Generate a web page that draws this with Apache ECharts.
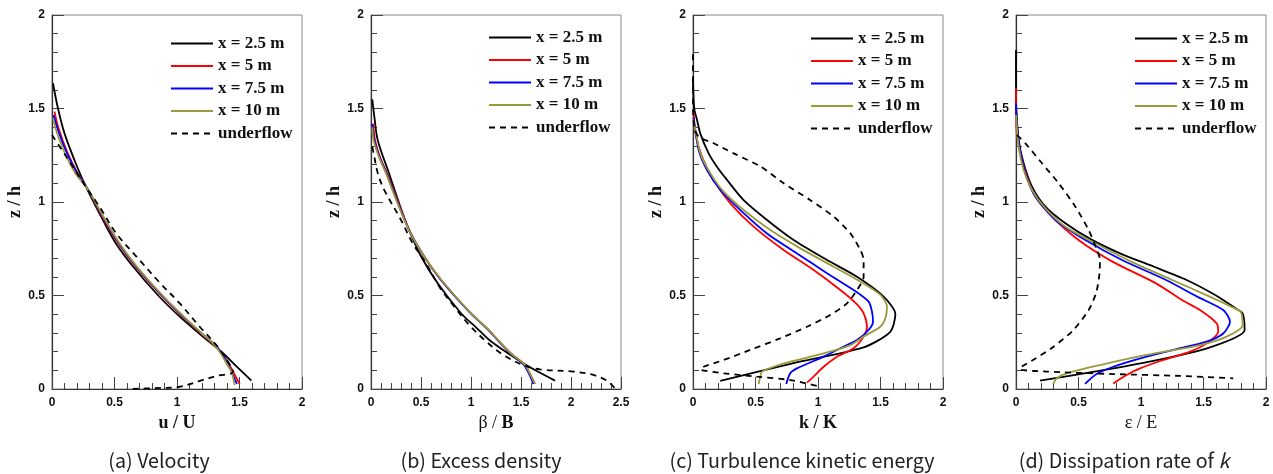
<!DOCTYPE html>
<html>
<head>
<meta charset="utf-8">
<script src="https://cdn.jsdelivr.net/npm/echarts@6/dist/echarts.min.js"></script>
<style>
  html, body { margin: 0; padding: 0; background: #fff; }
  #chart { width: 1273px; height: 474px; }
</style>
</head>
<body>
<div id="chart"></div>
<script>
// Vertical profiles of an underflow at four downstream stations, [value, z/h]

// (a) velocity u/U
const velX25 = [[0.008,1.635],[0.048,1.5],[0.10,1.367],[0.20,1.19],[0.28,1.07],[0.41,0.9],[0.51,0.78],[0.65,0.654],[0.85,0.5],[1.022,0.387],[1.19,0.29],[1.368,0.191],[1.48,0.118],[1.595,0.045]];
const velX5 = [[0.02,1.483],[0.05,1.40],[0.12,1.27],[0.20,1.16],[0.285,1.07],[0.42,0.9],[0.53,0.78],[0.67,0.654],[0.875,0.5],[1.045,0.387],[1.205,0.29],[1.30,0.235],[1.368,0.182],[1.435,0.11],[1.462,0.075],[1.502,0.027]];
const velX75 = [[0.013,1.465],[0.05,1.38],[0.12,1.26],[0.20,1.155],[0.285,1.07],[0.425,0.9],[0.535,0.78],[0.675,0.654],[0.88,0.5],[1.05,0.387],[1.21,0.29],[1.30,0.238],[1.36,0.19],[1.425,0.11],[1.45,0.07],[1.48,0.027]];
const velX10 = [[0.008,1.447],[0.04,1.37],[0.11,1.25],[0.19,1.15],[0.285,1.07],[0.43,0.9],[0.54,0.78],[0.68,0.654],[0.885,0.5],[1.055,0.387],[1.21,0.29],[1.288,0.244],[1.35,0.19],[1.41,0.12],[1.435,0.093],[1.462,0.021]];
const velUnder = [[0,1.358],[0.115,1.242],[0.288,1.064],[0.38,0.975],[0.514,0.832],[0.70,0.69],[0.86,0.57],[1.022,0.458],[1.182,0.333],[1.315,0.235],[1.382,0.173],[1.448,0.093],[1.315,0.07],[1.182,0.043],[1.022,0.012],[0.83,0.005],[0.62,0.0]];

// (b) excess density beta/B
const denX25 = [[0.013,1.549],[0.035,1.45],[0.067,1.332],[0.18,1.153],[0.27,1.01],[0.367,0.868],[0.50,0.71],[0.667,0.565],[0.9,0.405],[1.05,0.33],[1.183,0.262],[1.40,0.18],[1.59,0.116],[1.84,0.045]];
const denX5 = [[0.023,1.42],[0.04,1.332],[0.09,1.24],[0.16,1.153],[0.27,1.0],[0.383,0.85],[0.53,0.71],[0.70,0.583],[0.967,0.422],[1.19,0.307],[1.267,0.262],[1.40,0.19],[1.54,0.128],[1.60,0.07],[1.64,0.027]];
const denX75 = [[0.013,1.417],[0.032,1.332],[0.085,1.24],[0.155,1.153],[0.265,1.0],[0.38,0.85],[0.53,0.71],[0.70,0.583],[0.967,0.422],[1.19,0.307],[1.265,0.262],[1.395,0.19],[1.53,0.128],[1.59,0.07],[1.623,0.027]];
const denX10 = [[0.013,1.40],[0.025,1.332],[0.08,1.24],[0.15,1.153],[0.26,1.0],[0.38,0.85],[0.53,0.71],[0.705,0.583],[0.97,0.422],[1.195,0.307],[1.27,0.262],[1.40,0.19],[1.54,0.128],[1.60,0.07],[1.64,0.027]];
const denUnder = [[0.013,1.296],[0.03,1.25],[0.07,1.15],[0.133,1.064],[0.3,0.904],[0.417,0.779],[0.55,0.672],[0.683,0.547],[0.833,0.44],[0.983,0.342],[1.15,0.255],[1.323,0.182],[1.523,0.128],[1.69,0.105],[2.023,0.093],[2.223,0.075],[2.357,0.045],[2.44,0.004]];

// (c) turbulence kinetic energy k/K
const tkeX25 = [[0.0,1.66],[0.005,1.55],[0.012,1.49],[0.032,1.44],[0.058,1.367],[0.125,1.26],[0.19,1.19],[0.272,1.118],[0.405,1.01],[0.592,0.904],[0.805,0.797],[1.072,0.69],[1.312,0.6],[1.525,0.494],[1.619,0.401],[1.578,0.306],[1.365,0.223],[0.78,0.135],[0.218,0.043]];
const tkeX5 = [[0.0,1.49],[0.005,1.474],[0.019,1.367],[0.072,1.242],[0.165,1.118],[0.299,0.993],[0.485,0.868],[0.725,0.743],[0.965,0.636],[1.179,0.529],[1.30,0.46],[1.365,0.405],[1.392,0.333],[1.365,0.28],[1.285,0.218],[1.152,0.173],[1.045,0.119],[0.965,0.066],[0.912,0.034]];
const tkeX75 = [[0.0,1.45],[0.005,1.447],[0.045,1.278],[0.112,1.171],[0.219,1.064],[0.379,0.957],[0.592,0.832],[0.832,0.725],[1.072,0.619],[1.285,0.529],[1.405,0.467],[1.432,0.413],[1.44,0.36],[1.405,0.316],[1.312,0.262],[1.178,0.218],[1.045,0.173],[0.832,0.11],[0.778,0.084],[0.746,0.027]];
const tkeX10 = [[0.0,1.44],[0.005,1.43],[0.059,1.26],[0.139,1.153],[0.245,1.055],[0.405,0.957],[0.619,0.85],[0.859,0.752],[1.125,0.654],[1.339,0.574],[1.499,0.503],[1.552,0.44],[1.539,0.378],[1.498,0.333],[1.365,0.28],[1.258,0.235],[1.045,0.19],[0.778,0.146],[0.645,0.119],[0.552,0.093],[0.538,0.066],[0.525,0.027]];
const tkeUnder = [[0.0,1.79],[0.0,1.55],[0.01,1.40],[0.045,1.349],[0.165,1.314],[0.325,1.26],[0.54,1.19],[0.725,1.10],[0.939,1.01],[1.125,0.922],[1.259,0.832],[1.339,0.743],[1.365,0.69],[1.365,0.60],[1.312,0.529],[1.232,0.458],[1.098,0.396],[0.912,0.333],[0.698,0.271],[0.458,0.209],[0.245,0.155],[0.085,0.119],[0.06,0.105],[0.245,0.084],[0.512,0.066],[0.778,0.048],[0.992,0.016]];

// (d) dissipation rate eps/E
const dssX25 = [[0.0,1.813],[0.0,1.6],[0.003,1.492],[0.021,1.332],[0.061,1.207],[0.128,1.082],[0.235,0.975],[0.395,0.886],[0.60,0.80],[0.85,0.72],[1.10,0.655],[1.365,0.583],[1.60,0.50],[1.76,0.43],[1.813,0.405],[1.829,0.316],[1.552,0.223],[1.10,0.15],[0.65,0.095],[0.192,0.045]];
const dssX5 = [[0.0,1.608],[0.003,1.403],[0.035,1.26],[0.088,1.135],[0.155,1.029],[0.288,0.922],[0.50,0.797],[0.775,0.68],[1.12,0.565],[1.328,0.476],[1.472,0.422],[1.605,0.351],[1.618,0.306],[1.525,0.244],[1.392,0.2],[1.178,0.155],[0.992,0.11],[0.885,0.075],[0.778,0.03]];
const dssX75 = [[0.0,1.528],[0.003,1.456],[0.027,1.296],[0.075,1.153],[0.155,1.029],[0.315,0.904],[0.555,0.797],[0.848,0.69],[1.20,0.583],[1.45,0.494],[1.658,0.422],[1.712,0.36],[1.658,0.297],[1.525,0.253],[1.312,0.218],[1.045,0.173],[0.778,0.119],[0.645,0.08],[0.552,0.027]];
const dssX10 = [[0.0,1.465],[0.021,1.296],[0.061,1.171],[0.128,1.064],[0.235,0.966],[0.395,0.868],[0.635,0.779],[0.92,0.681],[1.25,0.583],[1.55,0.494],[1.75,0.431],[1.80,0.41],[1.813,0.342],[1.685,0.28],[1.472,0.235],[1.045,0.182],[0.672,0.128],[0.405,0.084],[0.325,0.057],[0.298,0.027]];
const dssUnder = [[0.008,1.358],[0.075,1.314],[0.208,1.207],[0.341,1.1],[0.475,0.975],[0.581,0.85],[0.648,0.743],[0.672,0.69],[0.665,0.6],[0.64,0.512],[0.581,0.422],[0.46,0.316],[0.30,0.226],[0.15,0.16],[0.045,0.119],[0.03,0.105],[0.245,0.093],[0.778,0.08],[1.312,0.07],[1.738,0.057]];

const seriesNames = ['x = 2.5 m', 'x = 5 m', 'x = 7.5 m', 'x = 10 m', 'underflow'];
const seriesColors = ['#000000', '#ff0000', '#0000ff', '#9b9a3a', '#000000'];
const captions = ['(a) Velocity', '(b) Excess density', '(c) Turbulence kinetic energy', '(d) Dissipation rate of {i|k}'];
const xNames = ['u / U', '{n|β / }{b|B}', 'k / K', 'ε / E'];
const xMax = [2, 2.5, 2, 2];
const yTicks = [0, 0.5, 1, 1.5, 2];

const panels = [
  [velX25, velX5, velX75, velX10, velUnder],
  [denX25, denX5, denX75, denX10, denUnder],
  [tkeX25, tkeX5, tkeX75, tkeX10, tkeUnder],
  [dssX25, dssX5, dssX75, dssX10, dssUnder]
];

// layout of the four frames
const gridLeft = [52, 371, 693, 1016];
const legendLeft = [165, 483, 805, 1129];
const legendTop = [30, 24, 25, 25];
const captionX = [159, 481, 802, 1124];
const smoothing = [0.35, 0.35, 0.25, 0.25];

const tickFont = { color: '#111', fontFamily: 'Liberation Sans, Arial, sans-serif', fontWeight: 'bold', fontSize: 12 };
const nameFont = { color: '#111', fontFamily: 'Liberation Serif, Times New Roman, serif', fontWeight: 'bold', fontSize: 18 };
const captionFont = { fontFamily: 'Noto Sans CJK KR, Noto Sans, sans-serif', fontSize: 19.7, fill: '#222' };

const grids = [], xAxes = [], yAxes = [], series = [], legends = [], graphics = [];

panels.forEach((profiles, p) => {
  grids.push({
    left: gridLeft[p], top: 15, width: 250, height: 374,
    show: true, borderColor: '#8a8a8a', borderWidth: 1, backgroundColor: 'transparent'
  });
  const axisBase = {
    gridIndex: p, type: 'value', min: 0,
    interval: 0.5,
    axisLine: { show: true, lineStyle: { color: '#333', width: 1.2 } },
    axisTick: { show: true, inside: true, length: 12, lineStyle: { color: '#444', width: 1 } },
    minorTick: { show: true, splitNumber: 5, length: 6, lineStyle: { color: '#444', width: 1 } },
    splitLine: { show: false },
    minorSplitLine: { show: false }
  };
  let xNameStyle = Object.assign({}, nameFont);
  if (p === 1) {
    xNameStyle.rich = {
      n: { fontFamily: 'Liberation Serif, serif', fontWeight: 'normal', fontSize: 18, color: '#111' },
      b: { fontFamily: 'Liberation Serif, serif', fontWeight: 'bold', fontSize: 18, color: '#111' }
    };
  }
  if (p === 3) xNameStyle.fontWeight = 'normal';
  xAxes.push(Object.assign({}, axisBase, {
    max: xMax[p],
    name: xNames[p], nameLocation: 'middle', nameGap: 24, nameTextStyle: xNameStyle,
    axisLabel: Object.assign({ margin: 8 }, tickFont)
  }));
  yAxes.push(Object.assign({}, axisBase, {
    max: yTicks[yTicks.length - 1],
    name: 'z / h', nameLocation: 'middle', nameGap: 27, nameRotate: 90, nameTextStyle: nameFont,
    axisLabel: Object.assign({ margin: 7 }, tickFont)
  }));
  profiles.forEach((data, s) => {
    series.push({
      type: 'line', name: seriesNames[s], xAxisIndex: p, yAxisIndex: p,
      data: data, showSymbol: false, symbol: 'none', smooth: smoothing[p], silent: true,
      lineStyle: { color: seriesColors[s], width: 1.8, type: s === 4 ? [6, 5] : 'solid' },
      itemStyle: { color: seriesColors[s] },
      animation: false
    });
  });
  legends.push({
    orient: 'vertical', left: legendLeft[p], top: legendTop[p],
    data: seriesNames, selectedMode: false,
    itemWidth: 42, itemHeight: 12, itemGap: 5.5,
    itemStyle: { opacity: 0 },
    textStyle: { color: '#111', fontFamily: 'Liberation Serif, Times New Roman, serif', fontWeight: 'bold', fontSize: 17, lineHeight: 16 }
  });
  graphics.push({
    type: 'text', x: captionX[p], y: 461,
    style: Object.assign({
      text: captions[p], textAlign: 'center', textVerticalAlign: 'middle',
      rich: { i: Object.assign({ fontStyle: 'italic' }, captionFont) }
    }, captionFont)
  });
});

const chart = echarts.init(document.getElementById('chart'));
chart.setOption({
  animation: false,
  backgroundColor: '#ffffff',
  grid: grids, xAxis: xAxes, yAxis: yAxes, series: series, legend: legends,
  graphic: graphics
});
</script>
</body>
</html>
